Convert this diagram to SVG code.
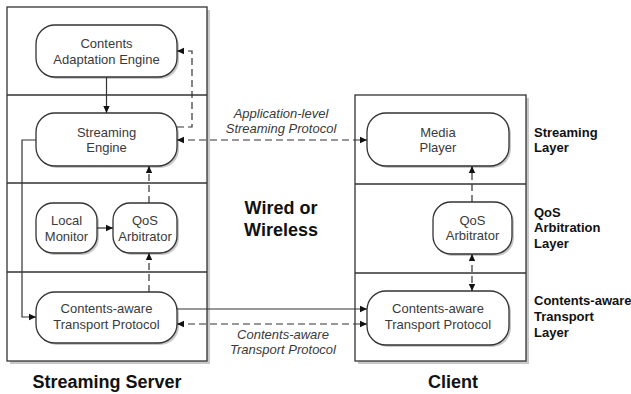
<svg xmlns="http://www.w3.org/2000/svg" width="631" height="394" viewBox="0 0 631 394">
<style>
.bg{fill:#fff}
.sh{fill:#c8c8c8}
.box{fill:#fff;stroke:#333;stroke-width:1.3}
.div{stroke:#333;stroke-width:1.3;fill:none}
.node{fill:#fff;stroke:#333;stroke-width:1.3}
.nsh{fill:#c8c8c8}
.nt{font-family:"Liberation Sans",Arial,sans-serif;font-size:13px;fill:#3a3a3a;text-anchor:middle}
.it{font-family:"Liberation Sans",Arial,sans-serif;font-size:13px;font-style:italic;fill:#3a3a3a;text-anchor:middle}
.lb{font-family:"Liberation Sans",Arial,sans-serif;font-size:13px;font-weight:bold;fill:#111}
.big{font-family:"Liberation Sans",Arial,sans-serif;font-size:18px;font-weight:bold;fill:#111;text-anchor:middle}
.sl{stroke:#333;stroke-width:1.2;fill:none}
.dl{stroke:#333;stroke-width:1.2;fill:none;stroke-dasharray:7,4}
</style>
<defs>
<marker id="ah" markerWidth="8" markerHeight="8" refX="7" refY="4" orient="auto-start-reverse" markerUnits="userSpaceOnUse">
<path d="M0,0.8 L7,4 L0,7.2 Z" fill="#111"/>
</marker>
</defs>
<rect class="bg" x="0" y="0" width="631" height="394"/>
<g id="server-box">
<rect class="sh" x="10" y="10" width="200" height="354"/>
<rect class="box" x="7" y="7" width="200" height="354"/>
<line class="div" x1="7" y1="95" x2="207" y2="95"/>
<line class="div" x1="7" y1="183" x2="207" y2="183"/>
<line class="div" x1="7" y1="272" x2="207" y2="272"/>
</g>
<g id="client-box">
<rect class="sh" x="358" y="98" width="171" height="266"/>
<rect class="box" x="355" y="95" width="171" height="266"/>
<line class="div" x1="355" y1="184" x2="526" y2="184"/>
<line class="div" x1="355" y1="273" x2="526" y2="273"/>
</g>
<g id="n-cae">
<rect class="nsh" x="38" y="27" width="141" height="52" rx="19"/>
<rect class="node" x="36" y="25" width="141" height="52" rx="19"/>
<text class="nt" x="106.5" y="47.5">Contents</text>
<text class="nt" x="106.5" y="63.5">Adaptation Engine</text>
</g>
<g id="n-se">
<rect class="nsh" x="38" y="115" width="141" height="53" rx="19"/>
<rect class="node" x="36" y="113" width="141" height="53" rx="19"/>
<text class="nt" x="106.5" y="136.5">Streaming</text>
<text class="nt" x="106.5" y="152">Engine</text>
</g>
<g id="n-lm">
<rect class="nsh" x="38" y="205" width="61" height="50" rx="17"/>
<rect class="node" x="36" y="203" width="61" height="50" rx="17"/>
<text class="nt" x="66.5" y="224.5">Local</text>
<text class="nt" x="66.5" y="240.5">Monitor</text>
</g>
<g id="n-qs">
<rect class="nsh" x="115" y="205" width="64" height="50" rx="17"/>
<rect class="node" x="113" y="203" width="64" height="50" rx="17"/>
<text class="nt" x="145" y="224.5">QoS</text>
<text class="nt" x="145" y="240.5">Arbitrator</text>
</g>
<g id="n-cs">
<rect class="nsh" x="38" y="294" width="141" height="51" rx="19"/>
<rect class="node" x="36" y="292" width="141" height="51" rx="19"/>
<text class="nt" x="106.5" y="312.5">Contents-aware</text>
<text class="nt" x="106.5" y="328.5">Transport Protocol</text>
</g>
<g id="n-mp">
<rect class="nsh" x="369" y="115" width="142" height="53" rx="19"/>
<rect class="node" x="367" y="113" width="142" height="53" rx="19"/>
<text class="nt" x="438" y="136.5">Media</text>
<text class="nt" x="438" y="152">Player</text>
</g>
<g id="n-qc">
<rect class="nsh" x="435" y="204" width="79" height="52" rx="18"/>
<rect class="node" x="433" y="202" width="79" height="52" rx="18"/>
<text class="nt" x="472.5" y="224.5">QoS</text>
<text class="nt" x="472.5" y="240">Arbitrator</text>
</g>
<g id="n-cc">
<rect class="nsh" x="369" y="293" width="142" height="54" rx="19"/>
<rect class="node" x="367" y="291" width="142" height="54" rx="19"/>
<text class="nt" x="438" y="312.5">Contents-aware</text>
<text class="nt" x="438" y="328.5">Transport Protocol</text>
</g>
<g id="connectors">
<line class="sl" x1="106.5" y1="77" x2="106.5" y2="113" marker-end="url(#ah)"/>
<polyline class="dl" points="177,127 192,127 192,51 177,51" marker-end="url(#ah)"/>
<line class="dl" x1="177" y1="140" x2="367" y2="140" marker-start="url(#ah)" marker-end="url(#ah)"/>
<polyline class="sl" points="36,140 22,140 22,317 36,317" marker-end="url(#ah)"/>
<line class="sl" x1="97" y1="228" x2="113" y2="228" marker-end="url(#ah)"/>
<line class="dl" x1="149" y1="203" x2="149" y2="166" marker-end="url(#ah)"/>
<line class="dl" x1="149" y1="292" x2="149" y2="253" marker-end="url(#ah)"/>
<line class="sl" x1="177" y1="309" x2="367" y2="309" marker-end="url(#ah)"/>
<line class="dl" x1="177" y1="324" x2="367" y2="324" marker-start="url(#ah)" marker-end="url(#ah)"/>
<line class="dl" x1="472" y1="202" x2="472" y2="166" marker-end="url(#ah)"/>
<line class="dl" x1="472" y1="254" x2="472" y2="291" marker-start="url(#ah)" marker-end="url(#ah)"/>
</g>
<g id="labels">
<text class="it" x="281" y="117.5">Application-level</text>
<text class="it" x="281" y="132.5">Streaming Protocol</text>
<text class="it" x="283" y="338.5">Contents-aware</text>
<text class="it" x="283" y="353.5">Transport Protocol</text>
<text class="big" x="281" y="214">Wired or</text>
<text class="big" x="281" y="236">Wireless</text>
<text class="big" x="107" y="388">Streaming Server</text>
<text class="big" x="453" y="388">Client</text>
<text class="lb" x="534" y="136.5">Streaming</text>
<text class="lb" x="534" y="152">Layer</text>
<text class="lb" x="534" y="216.5">QoS</text>
<text class="lb" x="534" y="232">Arbitration</text>
<text class="lb" x="534" y="248">Layer</text>
<text class="lb" x="534" y="304.5">Contents-aware</text>
<text class="lb" x="534" y="320.5">Transport</text>
<text class="lb" x="534" y="336.5">Layer</text>
</g>
</svg>
